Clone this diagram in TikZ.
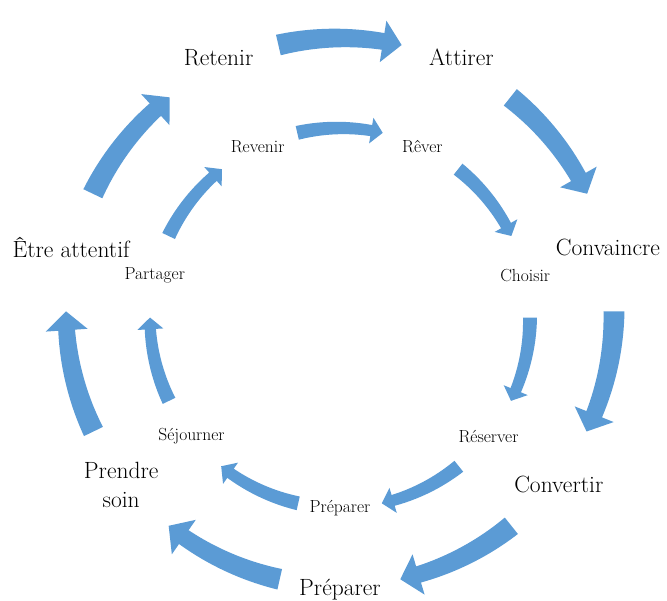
\documentclass[tikz,border=0pt]{standalone}
\usepackage{fontspec}
\usepackage{tikz}

\definecolor{cycleblue}{HTML}{5B9BD5}

% curved block arrow: #1 centre, #2 from angle, #3 to angle,
% #4 radius, #5 tail width, #6 head half-width
\newcommand{\bentarrow}[6]{%
  \pgfmathsetmacro{\arrfrom}{#2}%
  \pgfmathsetmacro{\arrto}{#3}%
  \pgfmathsetmacro{\headang}{\arrto+0.9*#6/#4*57.2958}%
  \pgfmathsetmacro{\headw}{0.8*#5}%
  \fill[cycleblue, shift={(#1)}]
    plot[domain=\arrfrom:\headang, samples=24]
      (\x:{#4+0.5*(#5+(\headw-#5)*(\arrfrom-(\x))/(\arrfrom-\headang))})
    -- (\headang:{#4+#6}) -- (\arrto:#4) -- (\headang:{#4-#6})
    -- plot[domain=\headang:\arrfrom, samples=24]
      (\x:{#4-0.5*(#5+(\headw-#5)*(\arrfrom-(\x))/(\arrfrom-\headang))})
    -- cycle;
}

\begin{document}
\begin{tikzpicture}[
    x=1pt, y=1pt,
    % --- label styles ---
    outer/.style={font=\fontsize{23.5}{29}\selectfont, align=center, inner sep=0pt},
    inner/.style={font=\fontsize{17.5}{20}\selectfont, inner sep=0pt}
]
\path[use as bounding box] (0,0) rectangle (667,601);

\coordinate (C) at (340,291);   % outer labels
\coordinate (D) at (340,283);   % inner cycle
\coordinate (E) at (340,289);   % outer arrows

%%% ================= OUTER CYCLE =================
\node (retenir)    [outer] at ([shift={(115.7:280)}]C) {Retenir};
\node (attirer)    [outer] at ([shift={(64.3:280)}]C)  {Attirer};
\node (convaincre) [outer, xshift=-5] at ([shift={(12.9:280)}]C) {Convaincre};
\node (convertir)  [outer] at ([shift={(-38.6:280)}]C) {Convertir};
\node (preparer)   [outer] at ([shift={(-90:280)}]C)   {Préparer};
\node (soin)       [outer] at ([shift={(-141.4:280)}]C) {Prendre\\soin};
\node (attentif)   [outer, xshift=4] at ([shift={(167.1:280)}]C) {Être attentif};

\foreach \m in {90, 38.57, -12.86, -64.29, -115.71, -167.14, -218.57}
  \bentarrow{E}{\m+13}{\m-13}{274}{21}{21};

%%% ================= INNER CYCLE =================
\node (revenir)   [inner] at ([shift={(115.7:190)}]D) {Revenir};
\node (rever)     [inner] at ([shift={(64.3:190)}]D)  {Rêver};
\node (choisir)   [inner] at ([shift={(12.9:190)}]D)  {Choisir};
\node (reserver)  [inner] at ([shift={(-38.6:190)}]D) {Réserver};
\node (prep)      [inner] at ([shift={(-90:190)}]D)   {Préparer};
\node (sejourner) [inner] at ([shift={(-141.4:190)}]D) {Séjourner};
\node (partager)  [inner] at ([shift={(167.1:190)}]D) {Partager};

\foreach \m in {90, 38.57, -12.86, -64.29, -115.71, -167.14, -218.57}
  \bentarrow{D}{\m+13}{\m-13}{190}{14}{13};

\end{tikzpicture}
\end{document}
